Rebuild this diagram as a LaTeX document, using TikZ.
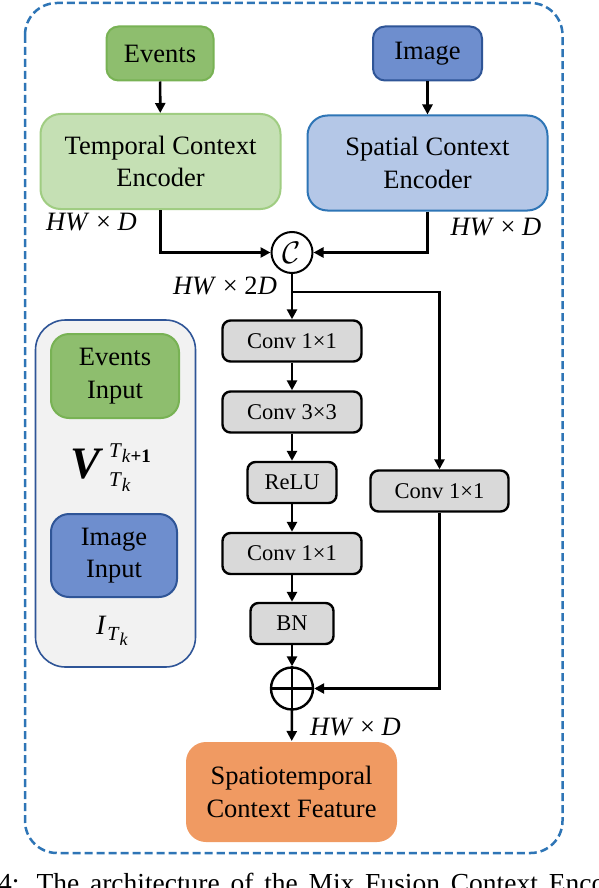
\RequirePackage{fix-cm}
\documentclass[tikz,border=0pt]{standalone}
\usepackage{fontspec}
\setmainfont{Liberation Serif}
\usepackage{amsmath}
\usetikzlibrary{arrows.meta,calc}
\newcommand{\fsz}[1]{\fontsize{#1}{#1}\selectfont}
\definecolor{evfill}{RGB}{142,190,110}
\definecolor{evborder}{RGB}{120,178,84}
\definecolor{imfill}{RGB}{110,142,206}
\definecolor{imborder}{RGB}{47,85,151}
\definecolor{tcfill}{RGB}{197,224,180}
\definecolor{tcborder}{RGB}{160,205,130}
\definecolor{scfill}{RGB}{180,199,231}
\definecolor{scborder}{RGB}{46,117,182}
\definecolor{convfill}{RGB}{217,217,217}
\definecolor{outfill}{RGB}{240,154,98}
\definecolor{legfill}{RGB}{242,242,242}
\definecolor{legborder}{RGB}{47,85,151}
\definecolor{dashc}{RGB}{46,117,182}
\begin{document}
\begin{tikzpicture}[x=1pt,y=-1pt,
  bigbox/.style={align=center, inner sep=0pt, line width=2pt, font=\fontsize{26.5}{32.5}\selectfont},
  convbox/.style={draw=black, fill=convfill, line width=2.4pt, rounded corners=8pt, inner sep=0pt,
     minimum height=41pt, font=\fontsize{22.5}{26}\selectfont},
  dimlabel/.style={inner sep=0pt, font=\fsz{26.5}},
  arr/.style={line width=2.6pt, -{Triangle[length=10pt,width=10pt]}},
  ln/.style={line width=2.6pt}]
\clip (0,0) rectangle (598,888);
\fill[white] (0,0) rectangle (598,888);
% outer dashed frame
\draw[dashc, line width=2.5pt, dash pattern=on 8pt off 4pt, rounded corners=32pt] (25,3) rectangle (562.5,853);
% inputs
\node[bigbox, fill=evfill, draw=evborder, minimum width=107pt, minimum height=54pt, rounded corners=12pt] (events) at (160,53.5) {Events};
\node[bigbox, fill=imfill, draw=imborder, minimum width=109pt, minimum height=54pt, rounded corners=12pt] (image) at (427.5,53.5) {Image};
% encoders
\node[bigbox, fill=tcfill, draw=tcborder, minimum width=240pt, minimum height=95pt, rounded corners=20pt] (temporal) at (160.5,161.5) {Temporal Context\\Encoder};
\node[bigbox, fill=scfill, draw=scborder, minimum width=240pt, minimum height=95pt, rounded corners=20pt] (spatial) at (427.5,163) {Spatial Context\\Encoder};
\node[dimlabel] (lbl1) at (91.5,222) {\textit{HW} × \textit{D}};
\node[dimlabel] (lbl2) at (496,227) {\textit{HW} × \textit{D}};
% concat
\node[circle, draw, line width=2pt, minimum size=41pt, inner sep=0pt, fill=white] (cat) at (292,252.5) {\scalebox{1.3}{\fsz{24}$\mathcal{C}$}};
\node[dimlabel] (lbl3) at (225,286) {\textit{HW} × 2\textit{D}};
% conv stack
\node[convbox, minimum width=139pt] (conv1) at (292,341) {Conv 1×1};
\node[convbox, minimum width=139pt] (conv3) at (292,412) {Conv 3×3};
\node[convbox, minimum width=89pt] (relu) at (292,482.5) {ReLU};
\node[convbox, minimum width=139pt] (conv1b) at (292,553.5) {Conv 1×1};
\node[convbox, minimum width=83pt] (bn) at (292,623.5) {BN};
\node[convbox, minimum width=138pt] (rconv) at (439.5,491) {Conv 1×1};
% add
\node[circle, draw, line width=2.4pt, minimum size=42pt, inner sep=0pt] (plus) at (292,688.5) {};
\draw[ln] (plus.north) -- (plus.south) (plus.west) -- (plus.east);
% output
\node[bigbox, fill=outfill, minimum width=211pt, minimum height=100pt, rounded corners=20pt] (out) at (291.5,792) {Spatiotemporal\\Context Feature};
\node[dimlabel] (lbl4) at (355.5,727) {\textit{HW} × \textit{D}};
% legend
\node[draw=legborder, fill=legfill, line width=1.6pt, rounded corners=30pt, minimum width=160pt, minimum height=347pt, inner sep=0pt] (legend) at (115.5,493.5) {};
\node[bigbox, fill=evfill, draw=evborder, minimum width=128pt, minimum height=84pt, rounded corners=18pt] (evin) at (115,376) {Events\\Input};
\node[bigbox, fill=imfill, draw=imborder, minimum width=126pt, minimum height=83pt, rounded corners=18pt] (imin) at (114,555.5) {Image\\Input};
\node[inner sep=0pt] (vsym) at (110,468) {\mbox{\fsz{45}\textbf{\textit{V}}}\kern5pt\makebox[40pt][l]{\rlap{\raisebox{21pt}{\fsz{21}\textit{T}\raisebox{-5pt}{\fsz{19}\textit{k}\textbf{+1}}}}\raisebox{-8pt}{\fsz{21}\textit{T}\raisebox{-5pt}{\fsz{19}\textit{k}}}}};
\node[inner sep=0pt] (isym) at (112,631) {\fsz{28}\textit{I}\kern1pt\raisebox{-6pt}{\fsz{20}\textit{T}\raisebox{-5pt}{\fsz{18}\textit{k}}}};
% connectors
\draw[arr] (events) -- (temporal);
\draw[arr] (image) -- (spatial);
\draw[arr] (temporal.south) |- (cat.west);
\draw[arr] (spatial.south) |- (cat.east);
\draw[arr] (cat) -- (conv1);
\coordinate (br) at (292,292);
\draw[arr] (br) -| (rconv.north);
\draw[arr] (conv1) -- (conv3);
\draw[arr] (conv3) -- (relu);
\draw[arr] (relu) -- (conv1b);
\draw[arr] (conv1b) -- (bn);
\draw[arr] (bn) -- (plus);
\draw[arr] (rconv.south) |- (plus.east);
\draw[arr] (plus) -- (out);
% caption (cut by the page edge)
\node[anchor=base west, inner sep=0pt, font=\fsz{27.5}] (caption) at (-2,892) {\makebox[607pt][s]{4: The architecture of the Mix Fusion Context Enco}};
\end{tikzpicture}
\end{document}
